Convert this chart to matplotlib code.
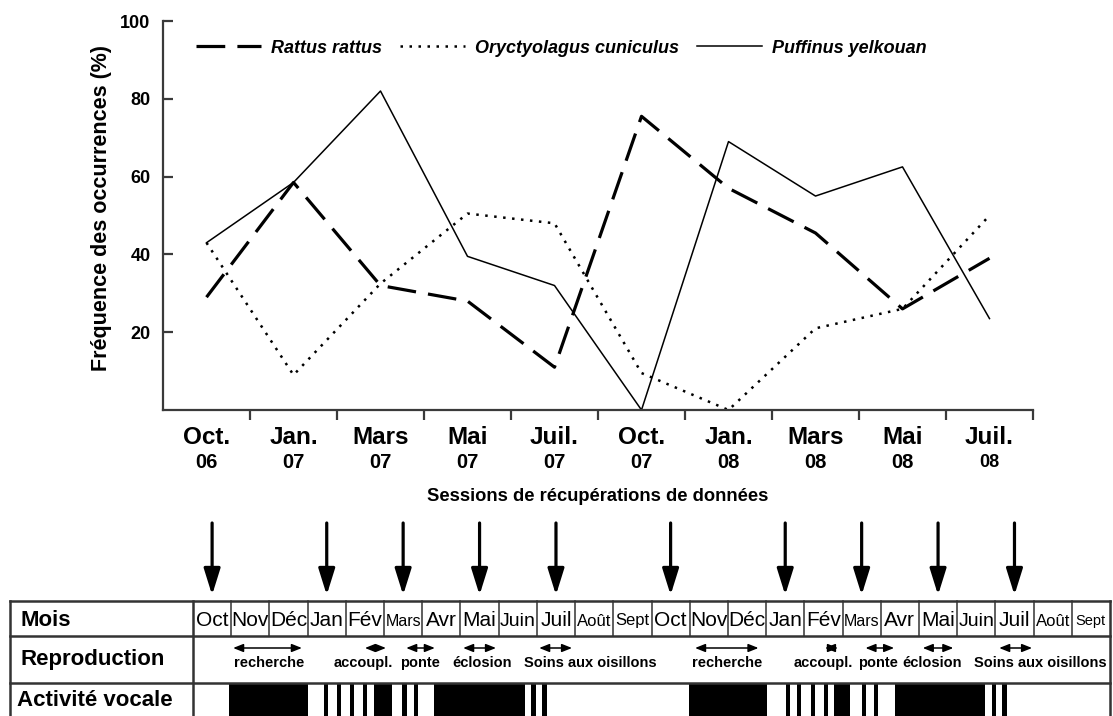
import matplotlib
matplotlib.use('Agg')
import matplotlib.pyplot as plt

plt.rcParams['font.family'] = ['Liberation Sans', 'DejaVu Sans']

# sessions de récupération de données
sess_mois = ['Oct.', 'Jan.', 'Mars', 'Mai', 'Juil.', 'Oct.', 'Jan.', 'Mars', 'Mai', 'Juil.']
sess_an = ['06', '07', '07', '07', '07', '07', '08', '08', '08', '08']
sess_idx = [0, 3, 5, 7, 9, 12, 15, 17, 19, 21]   # colonne du mois dans le tableau

# fréquence des occurrences (%)
rattus = [29, 58.5, 32, 28, 11, 75.5, 57, 45.5, 26, 39]
oryctolagus = [43, 9, 32.5, 50.5, 48, 9.5, 0, 21, 26, 50]
puffinus = [43, 58.5, 82, 39.5, 32, 0, 69, 55, 62.5, 23.5]

# tableau
mois = ['Oct', 'Nov', 'Déc', 'Jan', 'Fév', 'Mars', 'Avr', 'Mai', 'Juin', 'Juil', 'Août', 'Sept'] * 2
repro_lab = ['recherche', 'accoupl.', 'ponte', 'éclosion', 'Soins aux oisillons'] * 2
repro_debut = [1.05, 4.5, 5.58, 7.07, 9.06, 13.14, 16.54, 17.6, 19.1, 21.1]
repro_fin = [2.85, 5.05, 6.33, 7.93, 9.92, 14.8, 16.88, 18.35, 19.9, 21.96]
repro_txt = [2.0, 4.45, 5.94, 7.57, 10.4, 13.98, 16.49, 17.93, 19.35, 22.17]
vocal_debut = [0.94, 3.43, 3.77, 4.11, 4.45, 4.73, 5.47, 5.79, 6.31, 8.85, 9.14,
               12.98, 15.52, 15.81, 16.18, 16.52, 16.78, 17.51, 17.83, 18.38, 20.92, 21.18]
vocal_fin = [3.01, 3.53, 3.87, 4.22, 4.55, 5.2, 5.6, 5.89, 8.69, 8.98, 9.27,
             15.03, 15.63, 15.92, 16.28, 16.62, 17.2, 17.62, 17.93, 20.73, 21.02, 21.31]

W, H = 1113, 716
fig = plt.figure(figsize=(W / 100, H / 100), dpi=100)

# ---- graphique
ax = fig.add_axes([163 / W, 1 - 410 / H, 870 / W, 389 / H])
x = list(range(len(sess_mois)))
ax.plot(x, rattus, color='black', lw=2.3, dashes=(9, 3.8), label='Rattus rattus')
ax.plot(x, oryctolagus, color='black', lw=1.8, dashes=(1, 2.6), label='Oryctyolagus cuniculus')
ax.plot(x, puffinus, color='black', lw=1.1, label='Puffinus yelkouan')

ax.set_xlim(-0.5, 9.5)
ax.set_ylim(0, 100)
for s in ['top', 'right']:
    ax.spines[s].set_visible(False)
for s in ['left', 'bottom']:
    ax.spines[s].set_color('#3a3a3a')
    ax.spines[s].set_linewidth(1.6)
ax.set_yticks([20, 40, 60, 80, 100])
ax.set_yticklabels(['20', '40', '60', '80', '100'], fontsize=13, fontweight='bold')
ax.tick_params(axis='y', direction='in', length=7, width=1.6, color='#3a3a3a', pad=9)
ax.set_xticks([i + 0.5 for i in x])
ax.set_xticklabels([])
ax.tick_params(axis='x', direction='out', length=7, width=1.6, color='#3a3a3a')

for i in x:
    ax.annotate(sess_mois[i], xy=(i, 0), xycoords=('data', 'axes fraction'),
                xytext=(0, -20), textcoords='offset points', ha='center', va='center',
                fontsize=17.5, fontweight='bold')
    ax.annotate(sess_an[i], xy=(i, 0), xycoords=('data', 'axes fraction'),
                xytext=(0, -38), textcoords='offset points', ha='center', va='center',
                fontsize=14.5 if i < 9 else 13, fontweight='bold')

ax.set_ylabel('Fréquence des occurrences (%)', fontsize=15.5, fontweight='bold')
ax.yaxis.set_label_coords(-0.059, 0.52)
ax.annotate('Sessions de récupérations de données', xy=(0.5, 0), xycoords='axes fraction',
            xytext=(0, -62), textcoords='offset points', ha='center', va='center',
            fontsize=13.2, fontweight='bold')

ax.legend(loc='center left', bbox_to_anchor=(0.03, 0.93), ncol=3, frameon=False,
          prop={'size': 13, 'weight': 'bold', 'style': 'italic'},
          handlelength=3.6, handletextpad=0.55, columnspacing=1.0, borderaxespad=0)

# ---- tableau
tb = fig.add_axes([10 / W, 0, 1100 / W, 196 / H])
col = 917 / 24
x0 = -183 / col
tb.set_xlim(x0, 24)
tb.set_ylim(115, -81)
tb.axis('off')

lc = '#333333'
for yy in [0, 35, 82]:
    tb.plot([x0, 24], [yy, yy], color=lc, lw=1.8, clip_on=False)
for xx in [x0, 0, 24]:
    tb.plot([xx, xx], [0, 115], color=lc, lw=1.8, clip_on=False)
for m in range(1, 24):
    tb.plot([m, m], [0, 35], color=lc, lw=1.1)

petit = {'Mars': 11.5, 'Août': 12, 'Sept': 12, 'Juin': 14}
for m, nom in enumerate(mois):
    fs = petit.get(nom, 15)
    if m == 23:
        fs = 10.5
    tb.text(m + 0.5, 20, nom, ha='center', va='center', fontsize=fs)

tb.text(x0 + 0.27, 19, 'Mois', ha='left', va='center', fontsize=16, fontweight='bold')
tb.text(x0 + 0.27, 59, 'Reproduction', ha='left', va='center', fontsize=16, fontweight='bold')
tb.text(x0 + 0.18, 99, 'Activité vocale', ha='left', va='center', fontsize=16, fontweight='bold')

for k, lab in enumerate(repro_lab):
    tb.annotate('', xy=(repro_fin[k], 47), xytext=(repro_debut[k], 47),
                arrowprops=dict(arrowstyle='<|-|>,head_length=0.5,head_width=0.2',
                                color='black', lw=1.1, mutation_scale=12,
                                shrinkA=0, shrinkB=0))
    tb.text(repro_txt[k], 62, lab, ha='center', va='center', fontsize=10.5, fontweight='bold')

tb.broken_barh([(d, f - d) for d, f in zip(vocal_debut, vocal_fin)], (82, 40),
               facecolors='black', clip_on=False)

# flèches des sessions
for m in sess_idx:
    tb.annotate('', xy=(m + 0.5, -6), xytext=(m + 0.5, -78),
                arrowprops=dict(arrowstyle='-|>,head_length=0.8,head_width=0.25',
                                color='black', lw=2.3, mutation_scale=20,
                                shrinkA=0, shrinkB=0))

fig.savefig('out.png', dpi=100)
